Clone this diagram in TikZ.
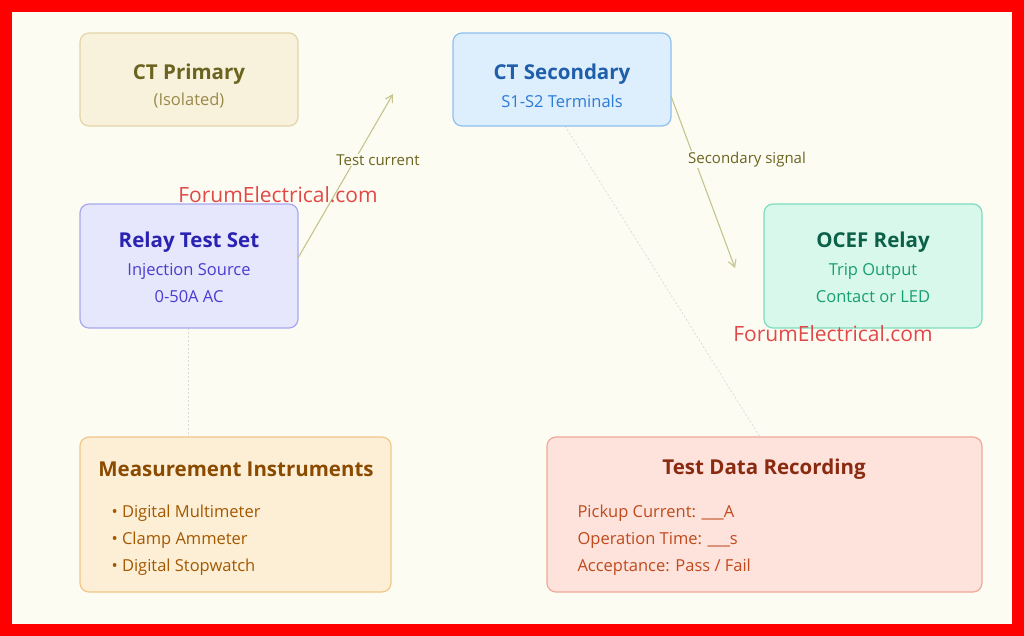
\documentclass[tikz,border=0pt]{standalone}
\usepackage{fontspec}
\setmainfont{Open Sans}
\usetikzlibrary{arrows.meta}
\definecolor{bg}{HTML}{FDFCF3}
\definecolor{arr}{HTML}{C4C48C}
\definecolor{pB}{HTML}{E3D5A8}\definecolor{pF}{HTML}{F8F1DC}\definecolor{pT}{HTML}{6B6420}\definecolor{pS}{HTML}{9A8A4A}
\definecolor{sB}{HTML}{8EC0F0}\definecolor{sF}{HTML}{DDEEFD}\definecolor{sT}{HTML}{1F5FAA}\definecolor{sS}{HTML}{2B7BD8}
\definecolor{rB}{HTML}{A8A8F0}\definecolor{rF}{HTML}{E6E6FD}\definecolor{rT}{HTML}{2A22B0}\definecolor{rS}{HTML}{4A3CD0}
\definecolor{oB}{HTML}{7EDDBE}\definecolor{oF}{HTML}{D9F8EC}\definecolor{oT}{HTML}{0B6048}\definecolor{oS}{HTML}{15A070}
\definecolor{mB}{HTML}{F2C789}\definecolor{mF}{HTML}{FDEFD6}\definecolor{mT}{HTML}{8A4A00}\definecolor{mS}{HTML}{A35800}
\definecolor{dB}{HTML}{F0A898}\definecolor{dF}{HTML}{FDE3DC}\definecolor{dT}{HTML}{8A2A10}\definecolor{dS}{HTML}{C04A1C}
\definecolor{wmc}{HTML}{E04848}
\tikzset{
 box/.style={draw=#1, line width=1.2pt, rounded corners=9pt},
 ttl/.style={font=\fontsize{20.5}{22}\selectfont\bfseries},
 sub/.style={font=\fontsize{16.5}{27}\selectfont},
 lbl/.style={font=\fontsize{15}{16}\selectfont, text=pT, fill=bg, inner sep=1pt},
 wm/.style={font=\fontsize{21}{22}\selectfont, text=wmc},
 flow/.style={draw=arr, line width=1.1pt, -{Straight Barb[length=7pt,width=8pt]}},
 faint/.style={draw=gray!30, line width=0.7pt, dash pattern=on 2pt off 2pt},
}
\begin{document}
\begin{tikzpicture}[x=1pt,y=-1pt]
\useasboundingbox (0,0) rectangle (1024,636);
\fill[red] (0,0) rectangle (1024,636);
\fill[bg] (12,12) rectangle (1012,624);
\coordinate (f1) at (565,126); \coordinate (f2) at (760,437);
\coordinate (g1) at (188,328); \coordinate (g2) at (188,437);
\draw[faint] (f1) -- (f2);
\draw[faint] (g1) -- (g2);
\filldraw[box=pB, fill=pF] (80,33) rectangle (298,126);
\node[ttl, text=pT] (p1) at (189,74) {CT Primary};
\node[sub, text=pS] (p2) at (189,101) {(Isolated)};
\filldraw[box=sB, fill=sF] (453,33) rectangle (671,126);
\node[ttl, text=sT] (s1) at (562,74) {CT Secondary};
\node[sub, text=sS] (s2) at (562,101) {S1-S2 Terminals};
\filldraw[box=rB, fill=rF] (80,204) rectangle (298,328);
\node[ttl, text=rT] (r1) at (189,242) {Relay Test Set};
\node[sub, text=rS, align=center] (r2) at (189,283) {Injection Source\\0-50A AC};
\filldraw[box=oB, fill=oF] (764,204) rectangle (982,328);
\node[ttl, text=oT] (o1) at (873,242) {OCEF Relay};
\node[sub, text=oS, align=center] (o2) at (873,283) {Trip Output\\Contact or LED};
\filldraw[box=mB, fill=mF] (80,437) rectangle (391,592);
\node[ttl, text=mT] (m1) at (236,469) {Measurement Instruments};
\node[sub, text=mS, align=left, anchor=west] (m2) at (108,540) {• Digital Multimeter\\• Clamp Ammeter\\• Digital Stopwatch};
\filldraw[box=dB, fill=dF] (547,437) rectangle (982,592);
\node[ttl, text=dT] (d1) at (764,469) {Test Data Recording};
\node[sub, text=dS, align=left, anchor=west] (d2) at (574,540) {Pickup Current: \_\_\_A\\Operation Time: \_\_\_s\\Acceptance: Pass / Fail};
\coordinate (a1) at (298,258); \coordinate (a2) at (393,94);
\coordinate (b1) at (671,96); \coordinate (b2) at (735,268);
\draw[flow] (a1) -- (a2);
\draw[flow] (b1) -- (b2);
\node[lbl] (t1) at (378,160) {Test current};
\node[lbl] (t2) at (747,160) {Secondary signal};
\node[wm] (w1) at (278,195) {ForumElectrical.com};
\node[wm] (w2) at (833,334) {ForumElectrical.com};
\end{tikzpicture}
\end{document}
